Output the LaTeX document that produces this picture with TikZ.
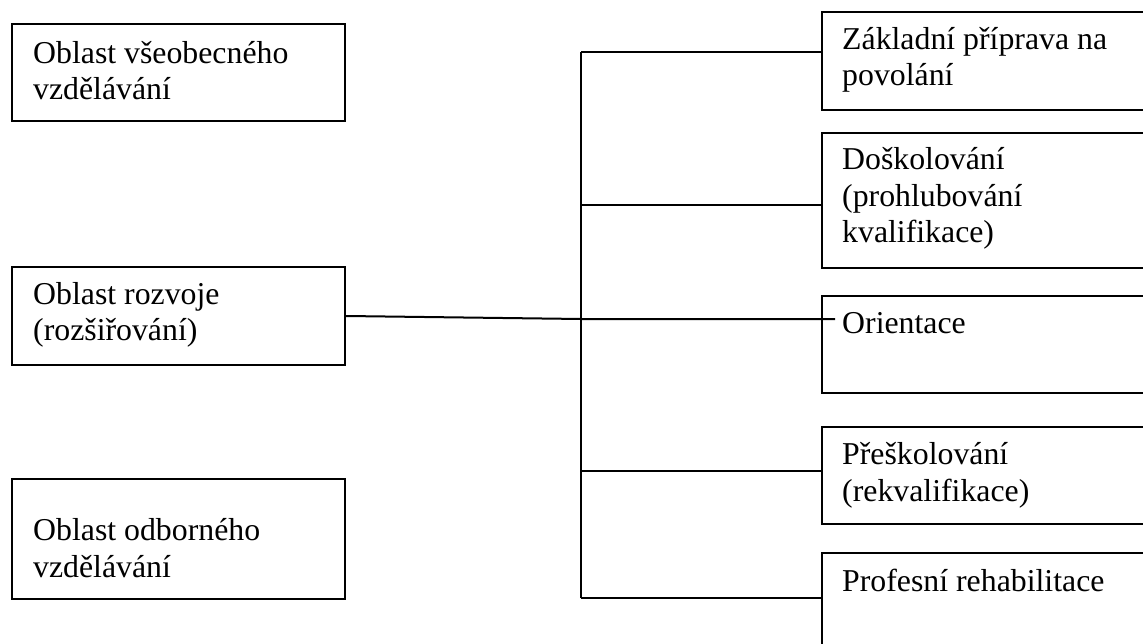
\documentclass[tikz,border=0pt]{standalone}
\usepackage{fontspec}
\setmainfont{Liberation Serif}
\begin{document}
\begin{tikzpicture}[x=1pt,y=-1pt]
	\tikzstyle{area}=[rectangle,draw=black,line width=2pt,anchor=north west,inner sep=0pt]
	\tikzstyle{label}=[anchor=base west,align=left,inner sep=0pt,font=\fontsize{31.8}{36.6}\selectfont]
	\tikzstyle{link}=[line width=2pt]
	\useasboundingbox (0,0) rectangle (1143,644);
	\clip (0,0) rectangle (1143,644);
	% left column (label at baseline of last line)
	\node[area,minimum width=333pt,minimum height=97pt] (vseob) at (11,23) {};
	\node[label] (vseob-t) at (33,100) {Oblast všeobecného\\vzdělávání};
	\node[area,minimum width=333pt,minimum height=98pt] (rozvoj) at (11,266) {};
	\node[label] (rozvoj-t) at (33,341) {Oblast rozvoje\\(rozšiřování)};
	\node[area,minimum width=333pt,minimum height=120pt] (odbor) at (11,478) {};
	\node[label] (odbor-t) at (33,577) {Oblast odborného\\vzdělávání};
	% right column
	\node[area,minimum width=340pt,minimum height=98pt] (zaklad) at (821,11) {};
	\node[label] (zaklad-t) at (842,86) {Základní příprava na\\povolání};
	\node[area,minimum width=340pt,minimum height=135pt] (dosk) at (821,132) {};
	\node[label] (dosk-t) at (842,243) {Doškolování\\(prohlubování\\kvalifikace)};
	\node[area,minimum width=340pt,minimum height=97pt] (orient) at (821,295) {};
	\node[label] (orient-t) at (842,334) {Orientace};
	\node[area,minimum width=340pt,minimum height=97pt] (presk) at (821,426) {};
	\node[label] (presk-t) at (842,501) {Přeškolování\\(rekvalifikace)};
	\node[area,minimum width=340pt,minimum height=110pt] (profes) at (821,552) {};
	\node[label] (profes-t) at (842,591) {Profesní rehabilitace};
	% connectors
	\coordinate (j1) at (581,52);
	\coordinate (j2) at (581,205);
	\coordinate (j3) at (581,319);
	\coordinate (j4) at (581,471);
	\coordinate (j5) at (581,598);
	\coordinate (orient-in) at (835,319);
	\draw[link] (j1) -- (j5);
	\draw[link] (rozvoj.east) -- (j3) -- (orient-in);
	\draw[link] (j1) -- (j1 -| zaklad.west);
	\draw[link] (j2) -- (j2 -| dosk.west);
	\draw[link] (j4) -- (j4 -| presk.west);
	\draw[link] (j5) -- (j5 -| profes.west);
\end{tikzpicture}
\end{document}
